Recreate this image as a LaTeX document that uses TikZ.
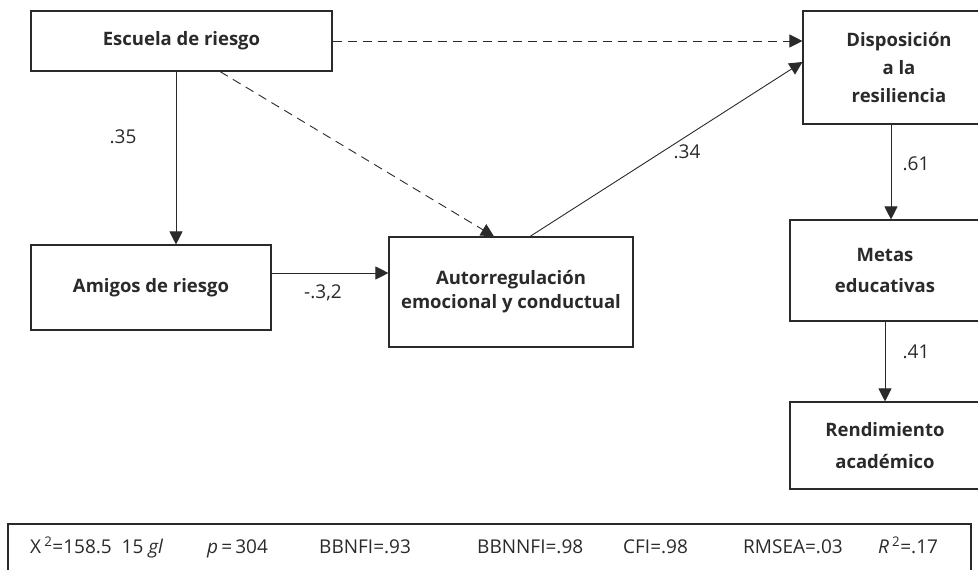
\documentclass[tikz,border=0pt]{standalone}
\usepackage{fontspec}
\setmainfont{Open Sans}
\usetikzlibrary{arrows.meta,calc}
\definecolor{ink}{HTML}{2A2A2A}
\begin{document}
\begin{tikzpicture}[x=1pt,y=-1pt,
  box/.style={draw=ink,line width=1.1pt,rectangle,align=center,inner sep=0pt,
    font=\fontsize{18.5}{28}\selectfont\bfseries,text=ink},
  arr/.style={draw=ink,line width=0.9pt,-{Triangle[length=13pt,width=13pt]}},
  darr/.style={arr,dash pattern=on 9pt off 6pt},
  lab/.style={font=\fontsize{19}{22}\selectfont,text=ink,inner sep=0pt},
  stat/.style={font=\fontsize{19}{22}\selectfont,text=ink,inner sep=0pt,anchor=base west}]
\useasboundingbox (0,0) rectangle (978,570);
\begin{scope}
\clip (0,0) rectangle (978,570);
\node[box,minimum width=301pt,minimum height=60pt] (esc) at (181.5,41) {Escuela de riesgo};
\node[box,minimum width=240pt,minimum height=85pt] (ami) at (151,287.5) {Amigos de riesgo};
\node[box,minimum width=244pt,minimum height=110pt,font=\fontsize{18.5}{24}\selectfont\bfseries] (aut) at (511,292) {Autorregulación\\emocional y conductual};
\node[box,minimum width=192pt,minimum height=113pt] (dis) at (899,67.5) {Disposición\\a la\\resiliencia};
\node[box,minimum width=190pt,minimum height=101pt,font=\fontsize{18.5}{31}\selectfont\bfseries] (met) at (885,270.5) {Metas\\educativas};
\node[box,minimum width=190pt,minimum height=87pt,font=\fontsize{18.5}{32}\selectfont\bfseries] (ren) at (885,445.5) {Rendimiento\\académico};
\node[draw=ink,line width=1.1pt,minimum width=963pt,minimum height=80pt,inner sep=0pt] (sta) at (489.5,564) {};

\draw[arr] ([xshift=-5.5pt]esc.south) -- ([xshift=-5.5pt]esc.south |- ami.north);
\draw[arr] ([yshift=14.5pt]ami.east) -- ([yshift=14.5pt]ami.east -| aut.west);
\draw[darr] ([xshift=38.5pt]esc.south) -- ([xshift=-17pt]aut.north);
\draw[darr] (esc.east) -- (esc.east -| dis.west);
\draw[arr] ([xshift=19pt]aut.north) -- ([yshift=5.5pt]dis.west);
\draw[arr] ([xshift=-8pt]dis.south) -- ([xshift=-8pt]dis.south |- met.north);
\draw[arr] (met.south) -- (ren.north);

\node[lab] (l35) at (123,137) {.35};
\node[lab] (l32) at (323,293) {-.3,2};
\node[lab] (l34) at (687,152) {.34};
\node[lab] (l61) at (916,164) {.61};
\node[lab] (l41) at (916,352) {.41};
\end{scope}
\node[stat] (s1) at (30,553) {X\,\textsuperscript{2}=158.5\ \ 15 \textit{gl}};
\node[stat] (s2) at (207,553) {\textit{p}\,=\,304};
\node[stat] (s3) at (319,553) {BBNFI=.93};
\node[stat] (s4) at (477,553) {BBNNFI=.98};
\node[stat] (s5) at (623,553) {CFI=.98};
\node[stat] (s6) at (743,553) {RMSEA=.03};
\node[stat] (s7) at (878,553) {\textit{R}\,\textsuperscript{2}=.17};
\end{tikzpicture}
\end{document}
